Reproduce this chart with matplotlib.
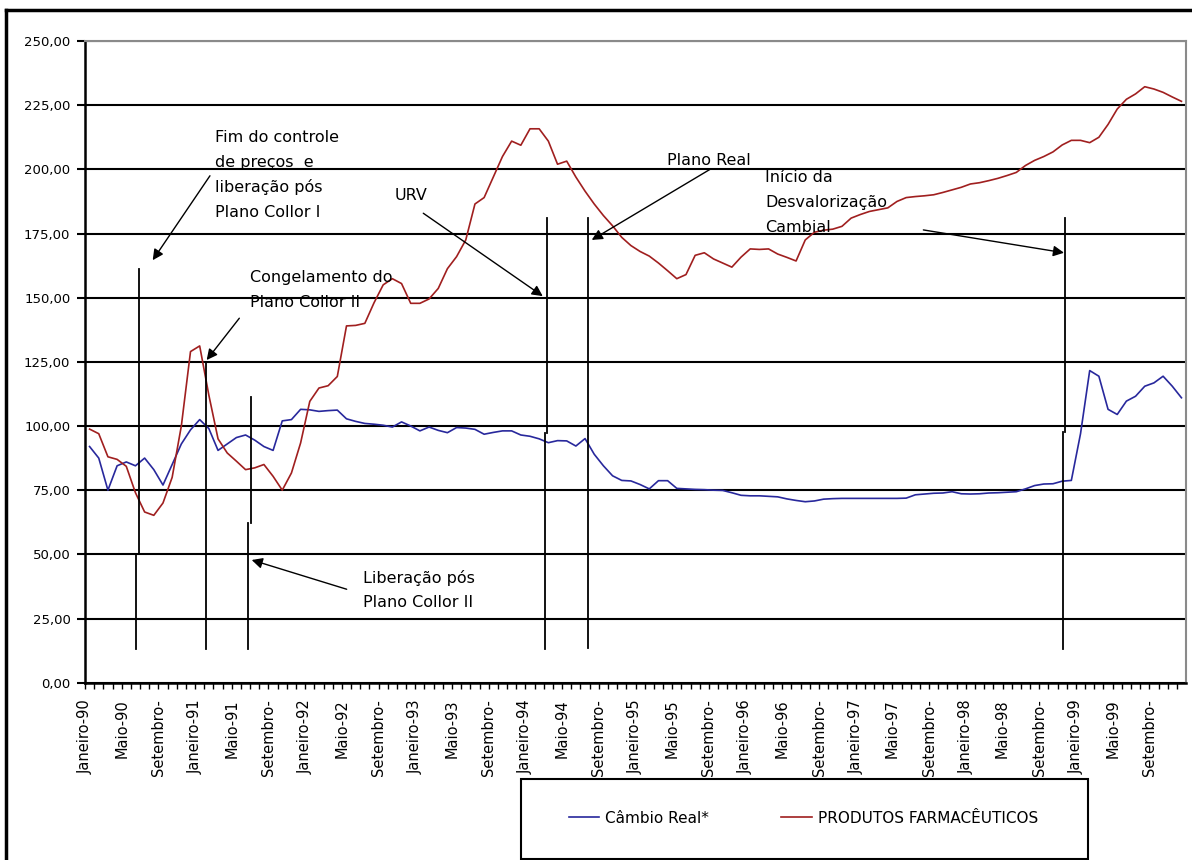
import numpy as np
import matplotlib
matplotlib.use("Agg")
import matplotlib.pyplot as plt
from matplotlib.lines import Line2D
from matplotlib.patches import Rectangle
from matplotlib.ticker import FuncFormatter

# monthly index, Jan/1990 .. Dec/1999
months = np.arange(120)

tick_labels = ["Janeiro-90", "Maio-90", "Setembro-",
               "Janeiro-91", "Maio-91", "Setembro-",
               "Janeiro-92", "Maio-92", "Setembro-",
               "Janeiro-93", "Maio-93", "Setembro-",
               "Janeiro-94", "Maio-94", "Setembro-",
               "Janeiro-95", "Maio-95", "Setembro-",
               "Janeiro-96", "Maio-96", "Setembro-",
               "Janeiro-97", "Maio-97", "Setembro-",
               "Janeiro-98", "Maio-98", "Setembro-",
               "Janeiro-99", "Maio-99", "Setembro-"]

cambio_real = [92, 87.5, 75, 84.5, 86, 84.5, 87.5, 83, 77, 85,
               93, 98.5, 102.5, 99, 90.5, 93, 95.5, 96.5, 94.5, 92,
               90.5, 102, 102.5, 106.5, 106.3, 105.7, 106, 106.2, 102.8, 101.8,
               101, 100.7, 100.3, 99.6, 101.6, 100, 98.1, 99.6, 98.3, 97.4,
               99.4, 99.2, 98.7, 96.8, 97.5, 98.1, 98.1, 96.5, 96, 95,
               93.5, 94.3, 94.2, 92.2, 95.1, 89, 84.5, 80.6, 78.8, 78.6,
               77.2, 75.5, 78.7, 78.7, 75.7, 75.5, 75.3, 75.2, 75, 74.9,
               74, 73, 72.8, 72.8, 72.6, 72.4, 71.6, 71, 70.5, 70.8,
               71.5, 71.7, 71.8, 71.8, 71.8, 71.8, 71.8, 71.8, 71.8, 71.9,
               73.2, 73.5, 73.8, 73.9, 74.4, 73.6, 73.5, 73.6, 73.9, 74,
               74.2, 74.4, 75.5, 76.8, 77.4, 77.5, 78.5, 78.8, 97, 121.6,
               119.4, 106.5, 104.5, 109.7, 111.6, 115.5, 116.8, 119.4, 115.5, 111]

farmaceuticos = [98.8, 97, 88, 87, 84.3, 74, 66.5, 65.2, 70, 80,
                 100, 129, 131.2, 112, 95, 89.5, 86.3, 83, 83.7, 85,
                 80.4, 75, 81.7, 93.4, 109.6, 114.8, 115.7, 119.3, 139, 139.2,
                 140, 148, 155, 157.4, 155.5, 147.8, 147.8, 149.5, 153.6, 161.3,
                 166, 172.5, 186.5, 189, 197, 205, 211, 209.4, 215.8, 215.8,
                 211, 202, 203.2, 197, 191.5, 186.5, 182, 178, 173.5, 170.3,
                 168, 166.2, 163.5, 160.5, 157.4, 159, 166.5, 167.5, 165.1, 163.5,
                 161.9, 165.8, 169, 168.8, 169, 167, 165.7, 164.3, 172.5, 175.5,
                 176.3, 176.7, 177.8, 181, 182.4, 183.6, 184.3, 185, 187.5, 189,
                 189.4, 189.7, 190.1, 191, 192, 193, 194.3, 194.8, 195.6, 196.5,
                 197.6, 198.8, 201.5, 203.5, 205, 206.8, 209.5, 211.3, 211.3, 210.4,
                 212.5, 217.5, 223.5, 227.3, 229.4, 232.2, 231.3, 230, 228.2, 226.5]

blue = "#28289c"
red = "#a01f1f"

fig = plt.figure(figsize=(11.92, 8.6), dpi=100)
ax = fig.add_axes([0.0713, 0.2062, 0.9237, 0.7461])

ax.plot(months, cambio_real, color=blue, lw=1.2, label="Câmbio Real*", zorder=3)
ax.plot(months, farmaceuticos, color=red, lw=1.2, label="PRODUTOS FARMACÊUTICOS", zorder=3)

ax.set_xlim(-0.5, 119.5)
ax.set_ylim(0, 250)
ax.set_yticks(np.arange(0, 251, 25))
ax.yaxis.set_major_formatter(FuncFormatter(lambda v, p: f"{v:.2f}".replace(".", ",")))
ax.yaxis.grid(True, color="black", lw=1.5)
ax.set_axisbelow(True)

ax.set_xticks(np.arange(0, 120, 4) - 0.5)
ax.set_xticklabels(tick_labels, rotation=90, fontsize=10.5)
ax.set_xticks(np.arange(120) - 0.5, minor=True)
ax.tick_params(axis="x", which="both", direction="out", length=4, width=1, pad=8)
ax.tick_params(axis="y", direction="out", length=6, width=1.5, pad=4.5, labelsize=9.5)

for s in ["left", "bottom"]:
    ax.spines[s].set_linewidth(1.8)
    ax.spines[s].set_color("black")
for s in ["top", "right"]:
    ax.spines[s].set_linewidth(1.5)
    ax.spines[s].set_color("#8a8a8a")

# vertical event markers (x, y_top, y_break, x_lower, y_bottom)
events = [(5.39, 161.2, 50.1, 5.03, 13.1),
          (12.69, 124.5, 124.5, 12.69, 13.1),
          (17.56, 111.3, 62.2, 17.3, 13.1),
          (49.82, 181.0, 97.3, 49.6, 13.1),
          (54.29, 181.0, 181.0, 54.29, 13.5),
          (106.35, 181.0, 97.7, 106.1, 13.1)]
for x0, yt, yb, x1, ybot in events:
    ax.plot([x0, x0], [yt, yb], color="black", lw=1.3, zorder=4)
    ax.plot([x1, x1], [yb, ybot], color="black", lw=1.3, zorder=4)

# arrows: (tail, head)
arrows = [((13.12, 197.5), (6.88, 164.6)),
          ((16.32, 142.0), (12.76, 125.7)),
          ((28.02, 36.4), (17.67, 47.8)),
          ((36.37, 182.9), (49.39, 150.6)),
          ((67.62, 200.0), (54.73, 172.5)),
          ((90.87, 176.4), (106.2, 167.5))]
for tail, head in arrows:
    ax.annotate("", xy=head, xytext=tail,
                arrowprops=dict(arrowstyle="-|>", color="black", lw=1.0,
                                mutation_scale=16, shrinkA=0, shrinkB=0),
                zorder=5)

notes = [(13.67, 212.6, ["Fim do controle", "de preços  e", "liberação pós", "Plano Collor I"]),
         (17.48, 158.0, ["Congelamento do", "Plano Collor II"]),
         (29.8, 40.8, ["Liberação pós", "Plano Collor II"]),
         (33.29, 189.9, ["URV"]),
         (62.93, 203.6, ["Plano Real"]),
         (73.61, 197.0, ["Início da", "Desvalorização", "Cambial"])]
for x, y, lines in notes:
    for k, line in enumerate(lines):
        ax.annotate(line, xy=(x, y), xytext=(0, -k * 18), textcoords="offset points",
                    fontsize=11.5, va="center", ha="left", color="black", zorder=6)

# outer frame (left and top edges)
fig.add_artist(Line2D([6 / 1192, 6 / 1192], [0, 1 - 10 / 860],
                      transform=fig.transFigure, color="black", lw=2.5))
fig.add_artist(Line2D([6 / 1192, 1], [1 - 10 / 860, 1 - 10 / 860],
                      transform=fig.transFigure, color="black", lw=2.5))

# legend box
fig.add_artist(Rectangle((521 / 1192, 1 / 860), (1088 - 521) / 1192, (858 - 778) / 860,
                         transform=fig.transFigure, fill=False, edgecolor="black", lw=1.5))
fig.legend(loc="center", bbox_to_anchor=(0.674, 0.0488), ncol=2, frameon=False,
           fontsize=11, handlelength=2.0, handletextpad=0.4, columnspacing=4.7)

fig.savefig("out.png", dpi=100)
